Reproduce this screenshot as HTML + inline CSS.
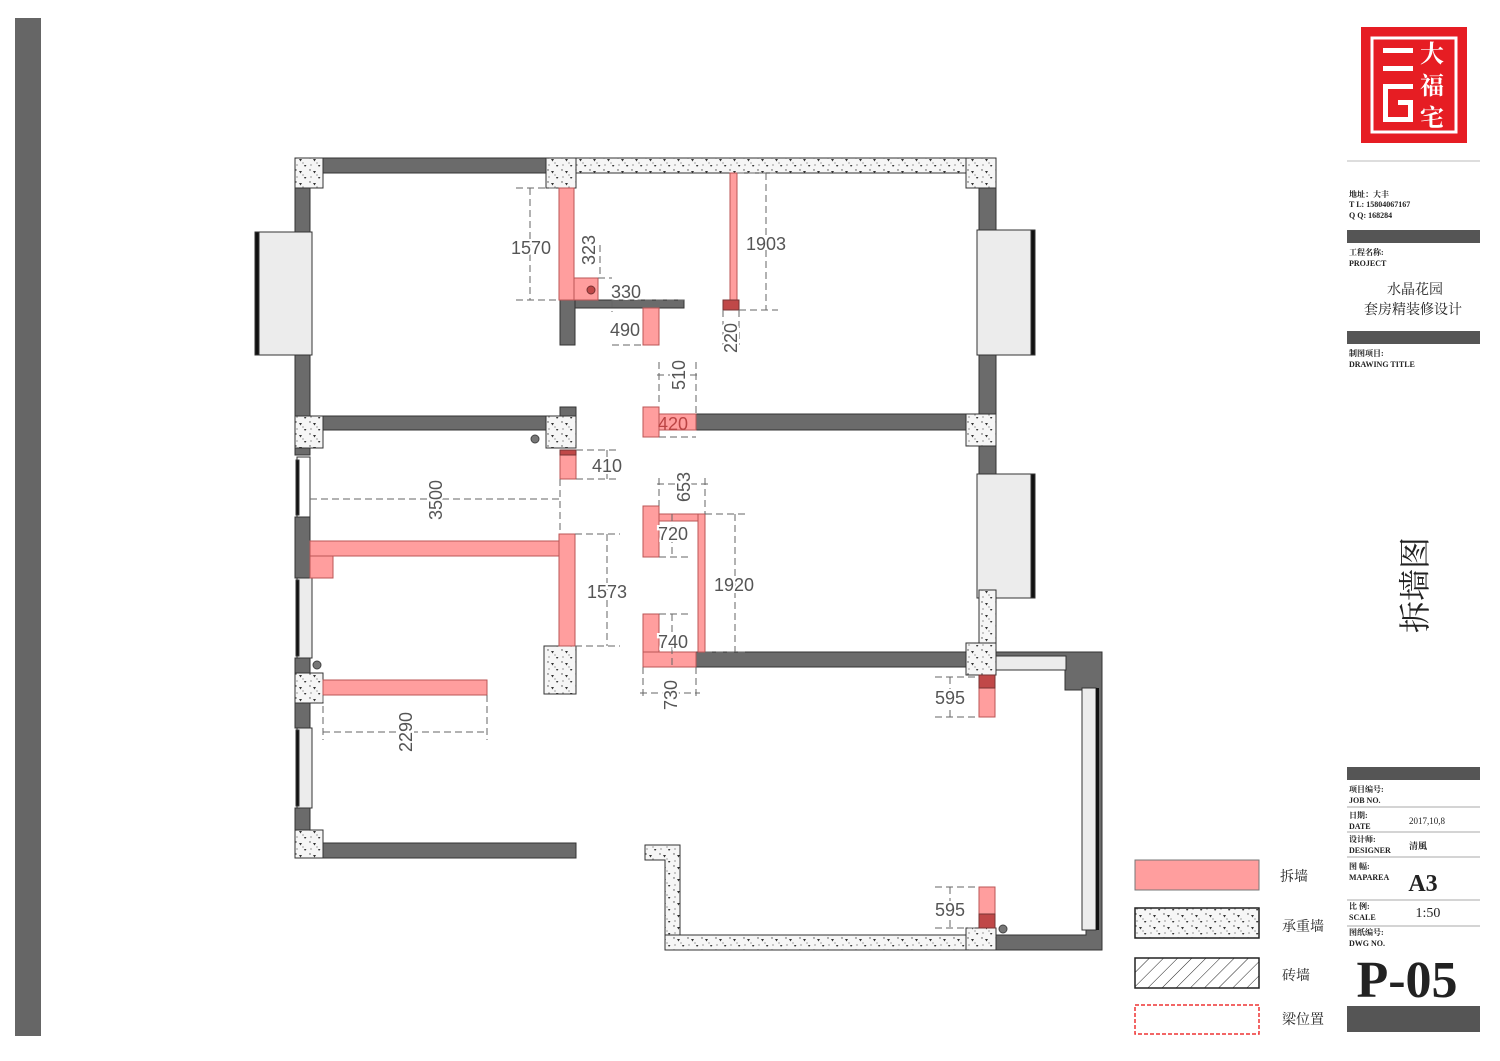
<!DOCTYPE html>
<html><head><meta charset="utf-8"><style>
html,body{margin:0;padding:0;background:#fff;}
svg{display:block}
text{font-family:"Liberation Serif","Noto Serif CJK SC",serif;}
.d{font-family:"Liberation Sans","Noto Sans CJK SC",sans-serif;font-size:18px;fill:#555;paint-order:stroke;stroke:#fff;stroke-width:4px;}
</style></head><body>
<svg width="1500" height="1061" viewBox="0 0 1500 1061" xmlns="http://www.w3.org/2000/svg">
<defs>
<pattern id="con" width="14" height="12" patternUnits="userSpaceOnUse">
<rect width="14" height="12" fill="#f6f6f6"/>
<circle cx="2" cy="2" r="0.7" fill="#444"/><circle cx="9" cy="7" r="0.6" fill="#666"/>
<path d="M5 3 L8 3 L6.5 5.5Z" fill="#333"/><path d="M10 9 L12.5 9 L11 11Z" fill="#333"/>
<circle cx="3" cy="9" r="0.6" fill="#555"/>
</pattern>
<pattern id="hat" width="10" height="10" patternUnits="userSpaceOnUse" patternTransform="rotate(45)">
<rect width="10" height="10" fill="#fff"/><line x1="0" y1="0" x2="0" y2="10" stroke="#222" stroke-width="1"/>
</pattern>
</defs>
<g stroke="#333" stroke-width="1">
<rect x="15" y="18" width="26" height="1018" fill="#666" stroke="none"/>
<rect x="323" y="158" width="223" height="15" fill="#6b6b6b"/>
<rect x="576" y="158" width="390" height="15" fill="url(#con)"/>
<rect x="295" y="158" width="28" height="30" fill="url(#con)"/>
<rect x="546" y="158" width="30" height="30" fill="url(#con)"/>
<rect x="966" y="158" width="30" height="30" fill="url(#con)"/>
<rect x="295" y="188" width="15" height="44" fill="#6b6b6b"/>
<rect x="258" y="232" width="54" height="123" fill="#ececec"/>
<rect x="255" y="232" width="4" height="123" fill="#111"/>
<rect x="295" y="355" width="15" height="61" fill="#6b6b6b"/>
<rect x="295" y="416" width="28" height="32" fill="url(#con)"/>
<rect x="323" y="416" width="223" height="14" fill="#6b6b6b"/>
<rect x="560" y="407" width="16" height="9" fill="#6b6b6b"/>
<rect x="546" y="416" width="30" height="32" fill="url(#con)"/>
<rect x="295" y="448" width="15" height="7" fill="#6b6b6b"/>
<rect x="297" y="457" width="13" height="60" fill="#fff"/><rect x="296" y="460" width="3" height="55" fill="#111"/>
<rect x="295" y="517" width="15" height="61" fill="#6b6b6b"/>
<rect x="297" y="578" width="15" height="80" fill="#ececec"/><rect x="296" y="580" width="3" height="76" fill="#111"/>
<rect x="295" y="658" width="15" height="15" fill="#6b6b6b"/>
<rect x="295" y="673" width="28" height="30" fill="url(#con)"/>
<rect x="295" y="703" width="15" height="25" fill="#6b6b6b"/>
<rect x="297" y="728" width="15" height="80" fill="#ececec"/><rect x="296" y="730" width="3" height="76" fill="#111"/>
<rect x="295" y="808" width="15" height="22" fill="#6b6b6b"/>
<rect x="295" y="830" width="28" height="28" fill="url(#con)"/>
<rect x="323" y="843" width="253" height="15" fill="#6b6b6b"/>
<rect x="560" y="300" width="15" height="45" fill="#6b6b6b"/>
<rect x="575" y="300" width="109" height="8" fill="#6b6b6b"/>
<rect x="696" y="414" width="270" height="16" fill="#6b6b6b"/>
<rect x="966" y="414" width="30" height="32" fill="url(#con)"/>
<rect x="696" y="652" width="270" height="15" fill="#6b6b6b"/>
<rect x="966" y="643" width="30" height="32" fill="url(#con)"/>
<rect x="544" y="646" width="32" height="48" fill="url(#con)"/>
<rect x="979" y="188" width="17" height="42" fill="#6b6b6b"/>
<rect x="977" y="230" width="56" height="125" fill="#ececec"/><rect x="1031" y="230" width="4" height="125" fill="#111"/>
<rect x="979" y="355" width="17" height="59" fill="#6b6b6b"/>
<rect x="979" y="446" width="17" height="28" fill="#6b6b6b"/>
<rect x="977" y="474" width="56" height="124" fill="#ececec"/><rect x="1031" y="474" width="4" height="124" fill="#111"/>
<rect x="979" y="590" width="17" height="53" fill="url(#con)"/>
<path d="M996 652 L1102 652 L1102 950 L996 950 L996 935 L1086 935 L1086 690 L1065 690 L1065 668 L996 668Z" fill="#6b6b6b"/>
<rect x="996" y="656" width="70" height="14" fill="#ececec"/>
<rect x="1082" y="688" width="14" height="242" fill="#ececec"/><rect x="1096" y="688" width="3" height="242" fill="#111" stroke="none"/>
<rect x="966" y="928" width="30" height="22" fill="url(#con)"/>
<rect x="665" y="935" width="301" height="15" fill="url(#con)"/>
<path d="M645 845 L680 845 L680 935 L665 935 L665 860 L645 860Z" fill="url(#con)"/>
</g>
<g fill="#ff9e9e" stroke="#b55" stroke-width="1">
<rect x="559" y="188" width="15" height="112"/>
<rect x="574" y="278" width="24" height="22"/>
<rect x="643" y="308" width="16" height="37"/>
<rect x="730" y="173" width="7" height="127"/>
<rect x="643" y="407" width="16" height="30"/>
<rect x="659" y="414" width="37" height="16"/>
<rect x="560" y="450" width="16" height="29"/>
<rect x="310" y="541" width="250" height="15"/>
<rect x="310" y="556" width="23" height="22"/>
<rect x="559" y="534" width="16" height="112"/>
<rect x="323" y="680" width="164" height="15"/>
<rect x="643" y="506" width="16" height="51"/>
<rect x="659" y="514" width="45" height="7"/>
<rect x="698" y="514" width="7" height="138"/>
<rect x="643" y="614" width="16" height="38"/>
<rect x="643" y="652" width="53" height="15"/>
<rect x="979" y="675" width="16" height="42"/>
<rect x="979" y="887" width="16" height="41"/>
</g>
<g fill="#c04848" stroke="#733" stroke-width="1">
<rect x="723" y="300" width="16" height="10"/>
<rect x="560" y="450" width="16" height="5"/>
<rect x="979" y="675" width="16" height="13"/>
<rect x="979" y="914" width="16" height="14"/>
<circle cx="591" cy="290" r="4"/>
</g>
<g fill="#777" stroke="#444"><circle cx="535" cy="439" r="4"/><circle cx="317" cy="665" r="4"/><circle cx="1003" cy="929" r="4"/></g>
<g stroke="#666" stroke-width="1" stroke-dasharray="7,4" fill="none">
<path d="M516 188 H559 M516 300 H559 M530 188 V300"/>
<path d="M598 278 H612 M600 245 V278"/>
<path d="M612 300 V312 M612 300 H684"/>
<path d="M612 345 H643"/>
<path d="M737 173 H778 M739 310 H778 M766 173 V310"/>
<path d="M723 310 V345 M739 310 V345"/>
<path d="M657 375 H697 M659 362 V406 M696 362 V414 M659 437 H696"/>
<path d="M576 450 H620 M576 479 H620 M607 450 V479"/>
<path d="M310 499 H560 M560 479 V534"/>
<path d="M575 534 H620 M575 646 H620 M607 534 V646"/>
<path d="M657 484 H708 M659 478 V506 M705 478 V514"/>
<path d="M705 514 H745 M705 652 H745 M735 514 V652"/>
<path d="M659 557 H690 M672 514 V557 M659 614 H690 M672 614 V667"/>
<path d="M643 667 V700 M696 667 V700 M640 693 H700"/>
<path d="M487 695 V740 M323 695 V740 M323 732 H487"/>
<path d="M935 677 H979 M935 717 H979 M950 677 V717"/>
<path d="M935 887 H979 M935 928 H979 M950 887 V928"/>
</g>
<g>
<text x="531" y="254" class="d" text-anchor="middle">1570</text>
<text x="766" y="250" class="d" text-anchor="middle">1903</text>
<text x="626" y="298" class="d" text-anchor="middle">330</text>
<text x="625" y="336" class="d" text-anchor="middle">490</text>
<text x="607" y="472" class="d" text-anchor="middle">410</text>
<text x="607" y="598" class="d" text-anchor="middle">1573</text>
<text x="734" y="591" class="d" text-anchor="middle">1920</text>
<text x="673" y="430" class="d" text-anchor="middle" style="fill:#b44;stroke:none">420</text>
<text x="673" y="540" class="d" text-anchor="middle">720</text>
<text x="673" y="648" class="d" text-anchor="middle">740</text>
<text x="950" y="704" class="d" text-anchor="middle">595</text>
<text x="950" y="916" class="d" text-anchor="middle">595</text>
<text class="d" text-anchor="middle" transform="translate(595,250) rotate(-90)">323</text>
<text class="d" text-anchor="middle" transform="translate(737,338) rotate(-90)">220</text>
<text class="d" text-anchor="middle" transform="translate(685,375) rotate(-90)">510</text>
<text class="d" text-anchor="middle" transform="translate(690,487) rotate(-90)">653</text>
<text class="d" text-anchor="middle" transform="translate(442,500) rotate(-90)">3500</text>
<text class="d" text-anchor="middle" transform="translate(677,695) rotate(-90)">730</text>
<text class="d" text-anchor="middle" transform="translate(412,732) rotate(-90)">2290</text>
</g>
<rect x="1135" y="860" width="124" height="30" fill="#ff9e9e" stroke="#777"/>
<rect x="1135" y="908" width="124" height="30" fill="url(#con)" stroke="#222" stroke-width="1.5"/>
<rect x="1135" y="958" width="124" height="30" fill="url(#hat)" stroke="#222" stroke-width="1.5"/>
<rect x="1135" y="1005" width="124" height="29" fill="#fff" stroke="#e33" stroke-width="1.5" stroke-dasharray="4,2"/>
<g font-size="14" fill="#222">
<text x="1280" y="881">拆墙</text><text x="1282" y="931">承重墙</text><text x="1282" y="980">砖墙</text><text x="1282" y="1024">梁位置</text>
</g>
<rect x="1361" y="27" width="106" height="116" fill="#e61d23"/>
<rect x="1372" y="38" width="84" height="94" fill="none" stroke="#fff" stroke-width="3"/>
<g fill="#fff"><rect x="1383" y="48" width="30" height="5"/><rect x="1383" y="66" width="30" height="5"/><rect x="1383" y="84" width="30" height="5"/><rect x="1383" y="84" width="5" height="38"/><rect x="1383" y="117" width="30" height="5"/><rect x="1398" y="100" width="15" height="5"/><rect x="1408" y="100" width="5" height="20"/></g>
<g fill="#fff" font-size="24" font-weight="bold" font-family="Noto Sans CJK SC, sans-serif"><text x="1420" y="62">大</text><text x="1420" y="94">福</text><text x="1420" y="126">宅</text></g>
<line x1="1347" y1="161" x2="1480" y2="161" stroke="#bbb"/>
<g font-size="8" fill="#222" font-weight="bold">
<text x="1349" y="197">地址：大丰</text><text x="1349" y="207">T  L:  15804067167</text><text x="1349" y="218">Q  Q:  168284</text>
<text x="1349" y="255">工程名称:</text><text x="1349" y="266">PROJECT</text>
<text x="1349" y="356">制图项目:</text><text x="1349" y="367">DRAWING TITLE</text>
<text x="1349" y="792">项目编号:</text><text x="1349" y="803">JOB NO.</text>
<text x="1349" y="818">日期:</text><text x="1349" y="829">DATE</text>
<text x="1349" y="842">设计师:</text><text x="1349" y="853">DESIGNER</text>
<text x="1349" y="869">图 幅:</text><text x="1349" y="880">MAPAREA</text>
<text x="1349" y="909">比 例:</text><text x="1349" y="920">SCALE</text>
<text x="1349" y="935">图纸编号:</text><text x="1349" y="946">DWG NO.</text>
</g>
<g fill="#555"><rect x="1347" y="230" width="133" height="13"/><rect x="1347" y="331" width="133" height="13"/><rect x="1347" y="767" width="133" height="13"/><rect x="1347" y="1006" width="133" height="26"/></g>
<g stroke="#aaa"><line x1="1347" y1="807" x2="1480" y2="807"/><line x1="1347" y1="832" x2="1480" y2="832"/><line x1="1347" y1="857" x2="1480" y2="857"/><line x1="1347" y1="900" x2="1480" y2="900"/><line x1="1347" y1="926" x2="1480" y2="926"/></g>
<g fill="#222" text-anchor="middle">
<text x="1415" y="294" font-size="14">水晶花园</text><text x="1413" y="314" font-size="14">套房精装修设计</text>
<text x="1427" y="824" font-size="9">2017,10,8</text><text x="1418" y="849" font-size="9" font-weight="bold">清風</text>
<text x="1423" y="891" font-size="24" font-weight="bold">A3</text>
<text x="1428" y="917" font-size="14">1:50</text>
<text x="1407" y="997" font-size="52" font-weight="bold">P-05</text>
</g>
<text transform="translate(1426,585) rotate(-90)" font-size="32" text-anchor="middle" fill="#222" font-family="Noto Sans CJK SC, sans-serif">拆墙图</text>
</svg>
</body></html>
